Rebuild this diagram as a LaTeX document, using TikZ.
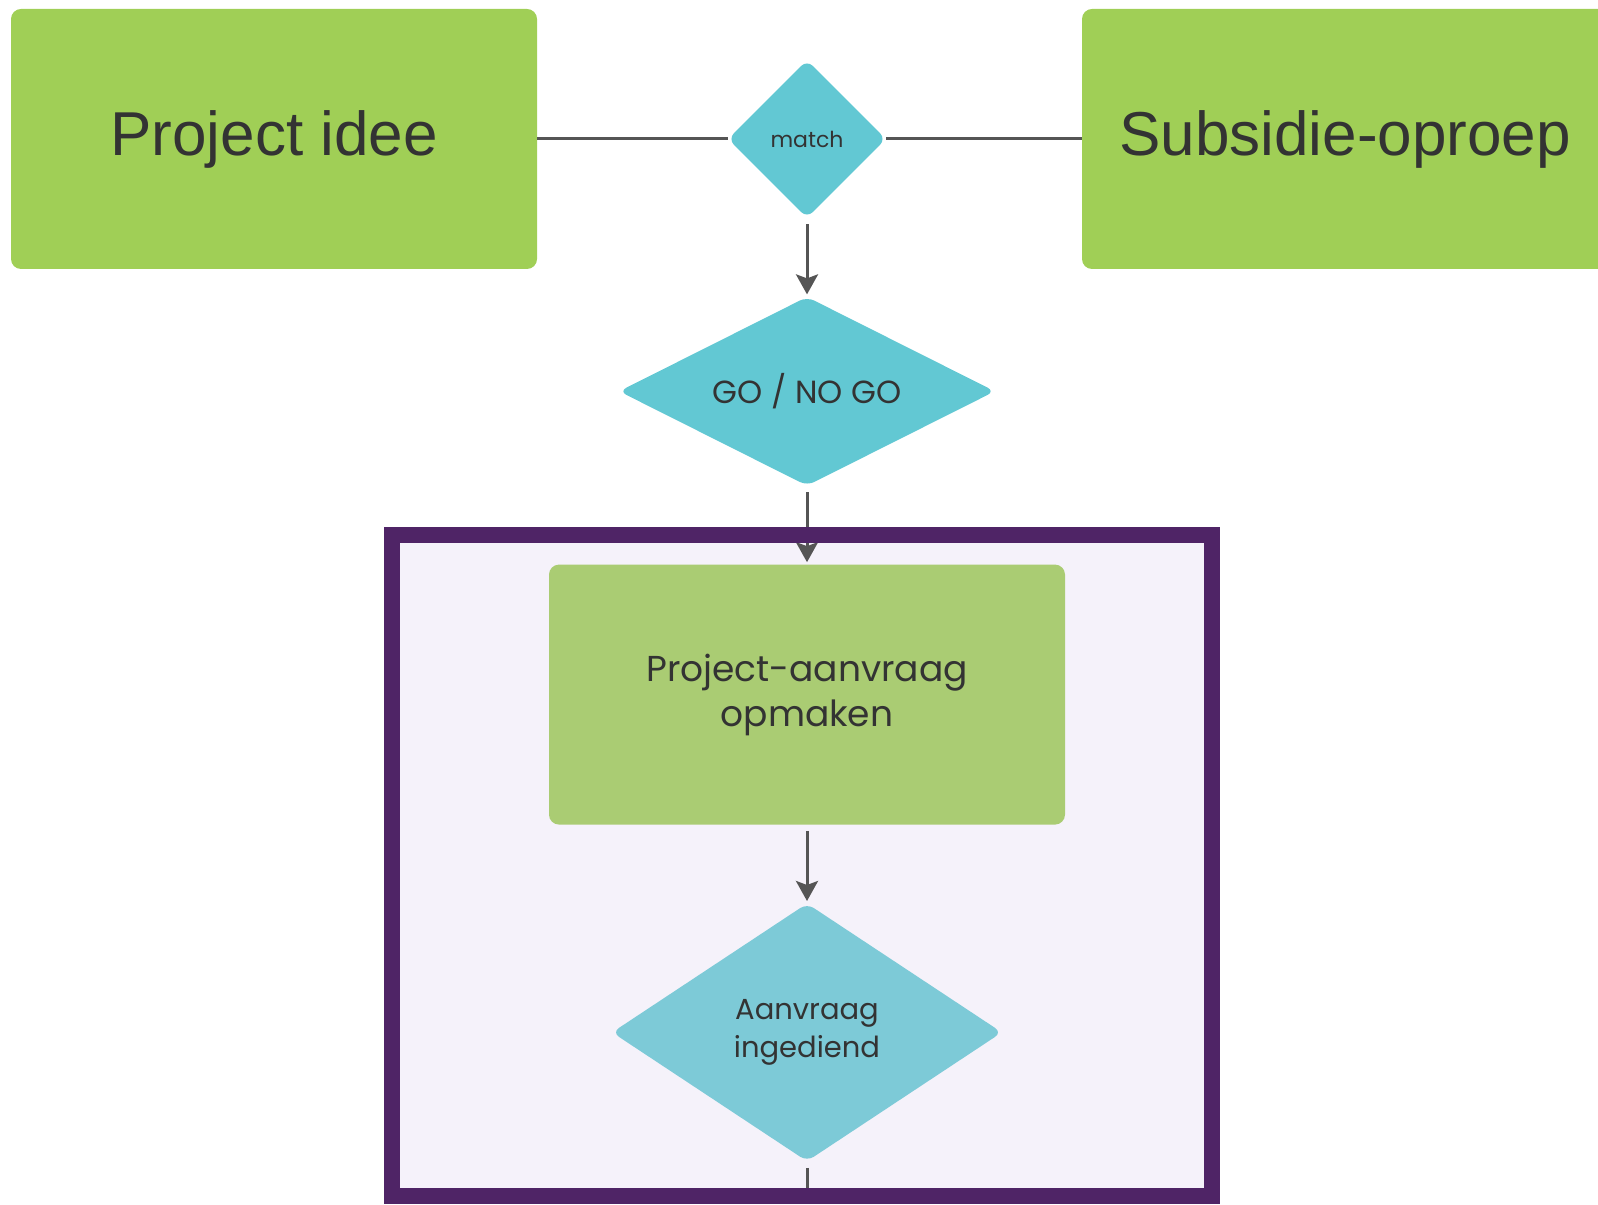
\documentclass[tikz,border=0pt]{standalone}
\usepackage{fontspec}
\setmainfont{Poppins}
\newfontfamily\headfont{Liberation Sans}
\usetikzlibrary{arrows.meta,positioning,shapes.geometric}

\definecolor{leaf}{HTML}{A0CF56}
\definecolor{leaflight}{HTML}{AACC73}
\definecolor{aqua}{HTML}{62C8D3}
\definecolor{aqualight}{HTML}{7DCAD7}
\definecolor{plum}{HTML}{4F2466}
\definecolor{lavender}{HTML}{F5F2FA}
\definecolor{ink}{HTML}{333333}
\definecolor{wiregray}{HTML}{555555}

\begin{document}
\begin{tikzpicture}[x=0.5pt, y=0.5pt, node distance = 39pt,
    bigbox/.style = {fill=leaf, rounded corners=5pt, minimum width=263pt, minimum height=130pt,
                     font=\headfont\fontsize{31}{36}\selectfont, text=ink},
    taskbox/.style = {fill=leaflight, rounded corners=5pt, minimum width=258pt, minimum height=130pt,
                      align=center, font=\fontsize{18}{22.4}\selectfont, text=ink},
    choice/.style = {diamond, fill=aqua, rounded corners=4pt, inner sep=0pt, text=ink, align=center},
    wire/.style = {draw=wiregray, line width=1.5pt},
    flow/.style = {wire, -{Stealth[length=10pt,width=11pt,inset=2pt]}, shorten <=3pt, shorten >=1pt}
]
\useasboundingbox (0,0) rectangle (1598,1204);
\clip (0,0) rectangle (1598,1204);
% frame background
\fill[lavender] (392,8) rectangle (1212,669);
%
\node (idee)   [bigbox] at (274,1065)  {Project idee};
\node (oproep) [bigbox] at (1345,1065) {Subsidie-oproep};
\node (match)  [choice, minimum width=79pt, minimum height=79pt,
                font=\fontsize{11}{13}\selectfont] at (807,1065) {match};
\node (gonogo) [choice, aspect=2, below = of match, minimum width=188pt, minimum height=94.5pt,
                font=\fontsize{16}{19}\selectfont] {GO / NO GO};
\node (opmaken)   [taskbox, below = of gonogo] {Project-aanvraag\\opmaken};
\node (ingediend) [choice, aspect=1.5, fill=aqualight, below = of opmaken, minimum width=195pt,
                   minimum height=129pt, font=\fontsize{14.5}{18.9}\selectfont] {Aanvraag\\ingediend};
\coordinate[below = 20pt of ingediend] (uit);
%
\draw[wire] (idee) -- (match) -- (oproep);
\foreach \a/\b in {match/gonogo, gonogo/opmaken, opmaken/ingediend}
    \draw[flow] (\a) -- (\b);
\draw[wire, shorten <=3pt] (ingediend) -- (uit);
% frame
\draw[plum, line width=8pt] (392,8) rectangle (1212,669);
\end{tikzpicture}
\end{document}
